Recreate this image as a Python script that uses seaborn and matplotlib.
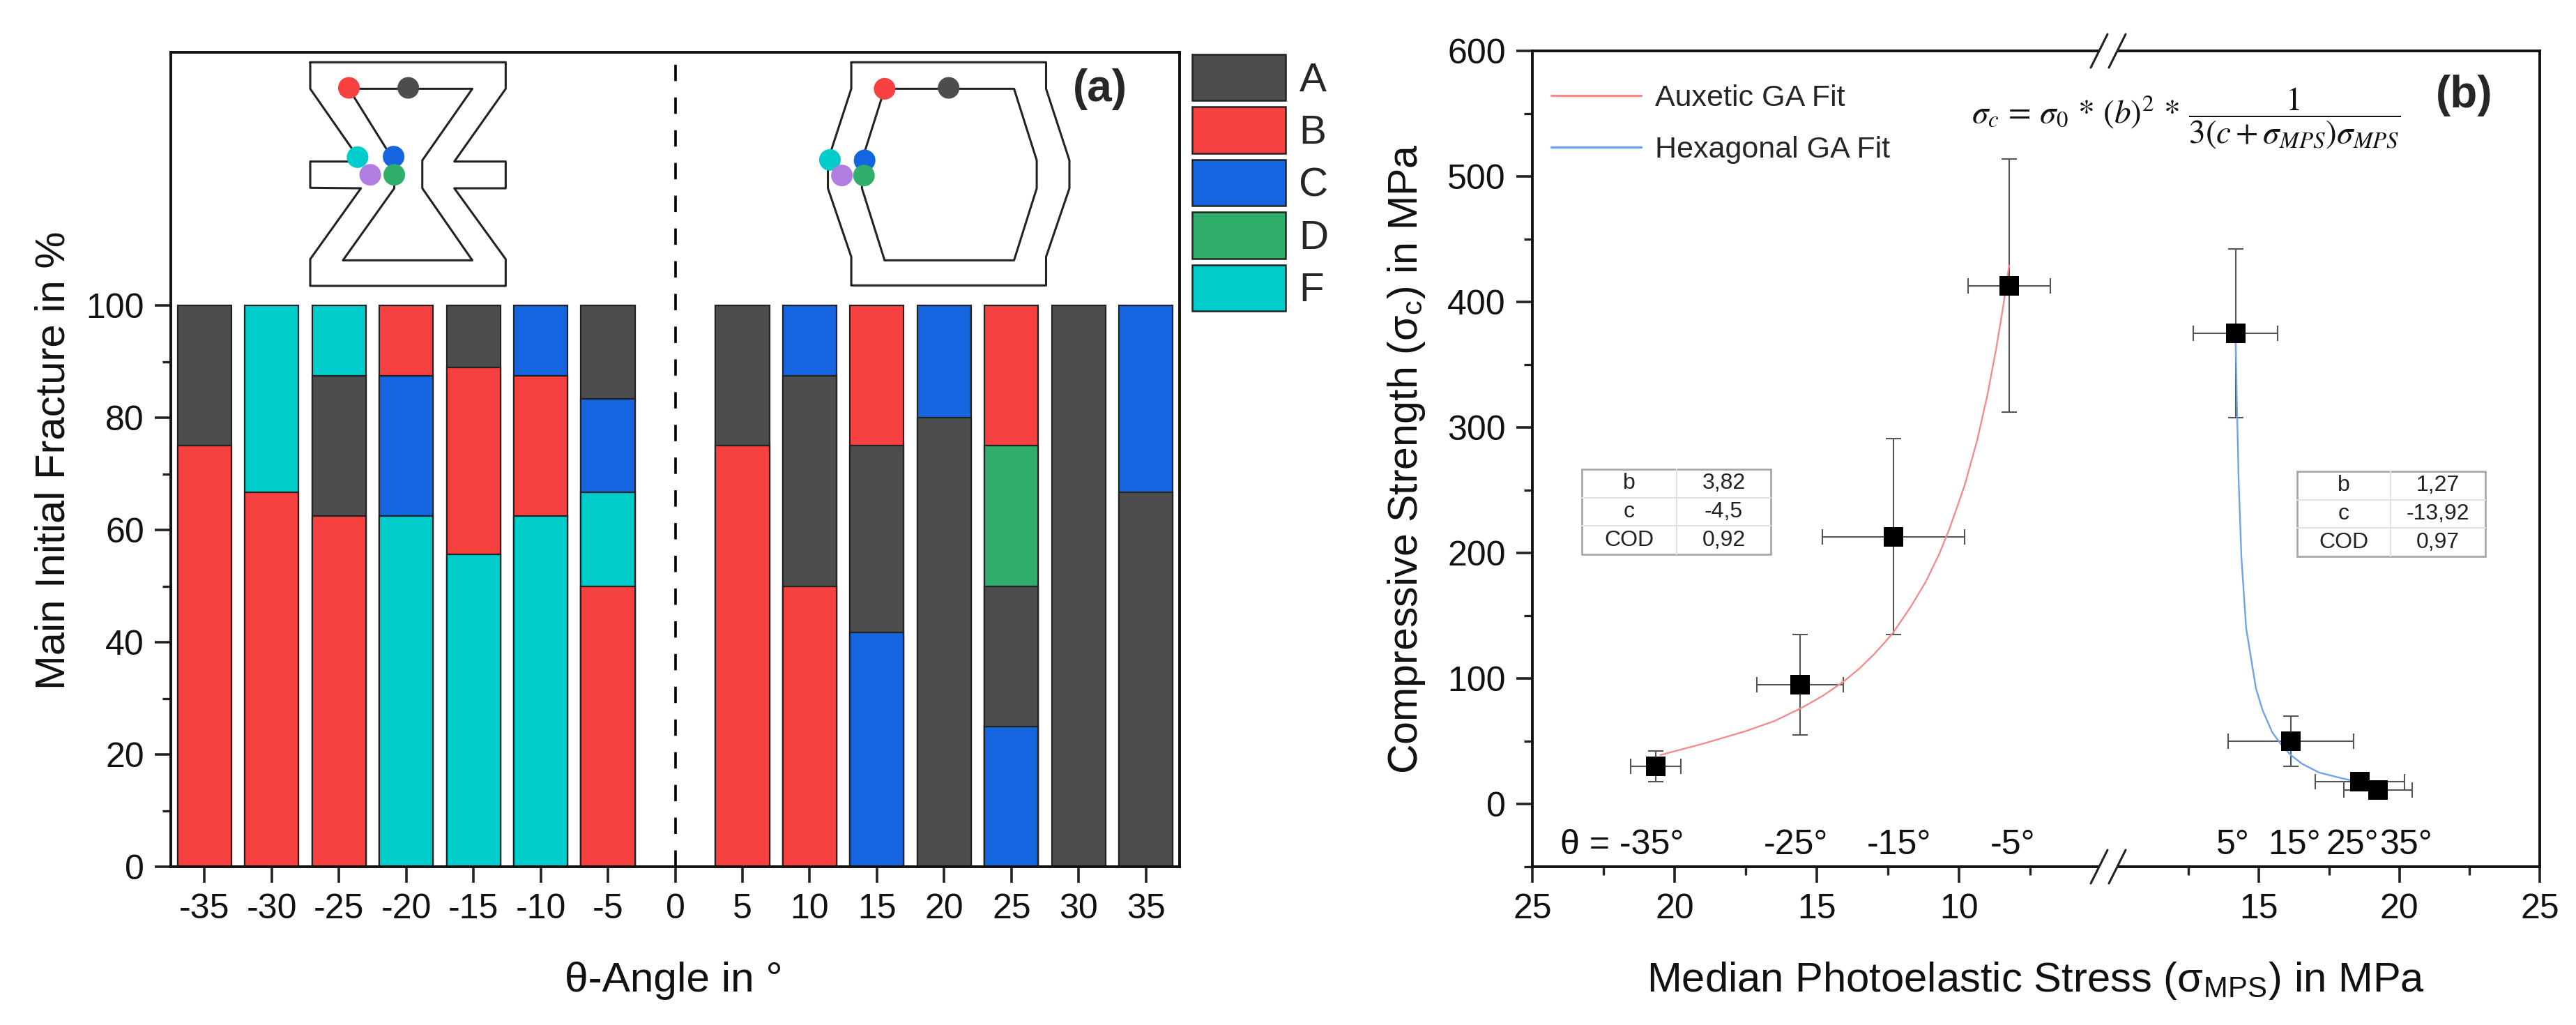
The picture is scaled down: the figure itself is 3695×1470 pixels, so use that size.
import matplotlib
matplotlib.use("Agg")
import matplotlib.pyplot as plt
from matplotlib.lines import Line2D
from matplotlib.patches import Patch, Circle, Rectangle
import pandas as pd
import seaborn as sns

W, H = 3695, 1470
sns.set_theme(style="white")
plt.rcParams["font.family"] = ["Liberation Sans", "DejaVu Sans"]
plt.rcParams["mathtext.fontset"] = "stix"
plt.rcParams["axes.unicode_minus"] = False

# ---- panel (a) data
ANGLES = [-35, -30, -25, -20, -15, -10, -5, 5, 10, 15, 20, 25, 30, 35]
TICK_ANGLES = list(range(-35, 40, 5))
STACK_LABELS = ["BA", "BF", "BAF", "FCB", "FBA", "FBC", "BFCA",
                "BA", "BAC", "CAB", "AC", "CADB", "A", "AC"]
STACK_VALUES = [[75, 25], [66.7, 33.3], [62.5, 25, 12.5], [62.5, 25, 12.5],
                [55.6, 33.3, 11.1], [62.5, 25, 12.5], [50, 16.7, 16.7, 16.6],
                [75, 25], [50, 37.5, 12.5], [41.7, 33.3, 25], [80, 20],
                [25, 25, 25, 25], [100], [66.7, 33.3]]
FRACTURE_COLORS = {"A": "#4d4d4d", "B": "#f74040", "C": "#1565e0",
                   "D": "#2fae6c", "F": "#00cccc"}
LEGEND_LABELS = ["A", "B", "C", "D", "F"]
EXTRA_COLOR = "#b07ee0"

# ---- panel (b) data
AUX_X = [20.66, 15.58, 12.30, 8.24]
AUX_Y = [30, 95, 213, 413]
AUX_XERR = [0.88, 1.52, 2.50, 1.44]
AUX_YERR = [12, 40, 78, 101]
HEX_X = [14.17, 16.14, 18.60, 19.24]
HEX_Y = [375, 50, 18, 11]
HEX_XERR = [1.50, 2.23, 1.58, 1.21]
HEX_YERR = [67, 20, 4, 4]
AUX_FIT_X = [20.5, 19.0, 17.5, 16.5, 15.58, 14.8, 14.03, 13.5, 13.0, 12.6, 12.3, 11.7, 11.17, 10.7, 10.34,
             9.8, 9.36, 9.0, 8.7, 8.45, 8.24]
AUX_FIT_Y = [39, 48, 58, 66, 76, 86, 98, 108, 119, 129, 137, 157, 177, 199, 219, 254, 290, 326, 362, 396, 429]
HEX_FIT_X = [14.17, 14.22, 14.28, 14.38, 14.55, 14.90, 15.13, 15.48, 15.84, 16.14, 16.54, 17.15, 17.86, 18.62, 19.27]
HEX_FIT_Y = [375, 320, 260, 197, 140, 92, 75, 57, 46, 39, 32, 25, 21, 17, 13]
THETA_LEFT = [("θ = -35°", 21.84), ("-25°", 15.74), ("-15°", 12.1), ("-5°", 8.1)]
THETA_RIGHT = [("5°", 14.08), ("15°", 16.27), ("25°", 18.33), ("35°", 20.24)]
TABLE_LEFT = [["b", "3,82"], ["c", "-4,5"], ["COD", "0,92"]]
TABLE_RIGHT = [["b", "1,27"], ["c", "-13,92"], ["COD", "0,97"]]

TICK = 36
LABEL = 43
fig = plt.figure(figsize=(W / 100, H / 100), dpi=100, facecolor="white")


def px_axes(l, t, r, b):
    return fig.add_axes([l / W, 1 - b / H, (r - l) / W, (b - t) / H])


def style(ax):
    for s in ax.spines.values():
        s.set_color("#111111")
        s.set_linewidth(2.8)
    ax.tick_params(which="major", length=16.5, width=2.6, labelsize=TICK, pad=11,
                   color="#222222", labelcolor="#111111", left=True, bottom=True)
    ax.tick_params(which="minor", length=8.5, width=2.4, color="#222222",
                   left=True, bottom=True)


# ===== panel (a)
axa = px_axes(245, 75, 1692, 1243)
style(axa)
rows = []
for ang, labs, vals in zip(ANGLES, STACK_LABELS, STACK_VALUES):
    top = 0
    for lev, (lab, v) in enumerate(zip(labs, vals)):
        top += v
        rows.append(dict(angle=ang, fracture=lab, level=lev, top=top))
df = pd.DataFrame(rows)
for lev in sorted(df.level.unique(), reverse=True):
    sns.barplot(data=df[df.level == lev], x="angle", y="top", hue="fracture", order=TICK_ANGLES,
                palette=FRACTURE_COLORS, dodge=False, width=0.8, saturation=1,
                edgecolor="#222222", linewidth=1.6, legend=False, ax=axa)
axa.set_xlim(-0.5, len(TICK_ANGLES) - 0.5)
axa.set_ylim(0, 145.1)
axa.set_yticks(range(0, 101, 20))
axa.yaxis.set_minor_locator(plt.FixedLocator(range(10, 100, 20)))
axa.set_xlabel("")
axa.set_ylabel("")
fig.text(966 / W, 1 - 1422 / H, "θ-Angle in °", fontsize=LABEL + 0.5, ha="center", va="baseline", color="#111111")
fig.text(77 / W, 1 - 660 / H, "Main Initial Fracture in %", fontsize=LABEL, rotation=90,
         ha="center", va="center", color="#111111")
axa.axvline(TICK_ANGLES.index(0), ymin=0, ymax=(1243 - 90) / (1243 - 75), color="black", lw=2.6, dashes=(6.5, 6.5))
fig.text(1578 / W, 1 - 128 / H, "(a)", fontsize=46, fontweight="bold", ha="center", va="center")

# legend boxes
handles = [Patch(facecolor=FRACTURE_COLORS[k], edgecolor="#222222", linewidth=1.8) for k in LEGEND_LABELS]
fig.legend(handles, LEGEND_LABELS, loc="upper left", bbox_to_anchor=(1710 / W, 1 - 78 / H),
           bbox_transform=fig.transFigure, frameon=False, fontsize=42, handlelength=2.3,
           handleheight=1.374, labelspacing=0.155, handletextpad=0.33, borderpad=0, borderaxespad=0)


# ===== specimen sketches
def zx(x):
    return (200 + x / 1.045) / W


def zy(y):
    return 1 - (40 + y / 3) / H


def poly(pts):
    xs = [zx(p[0]) for p in pts]
    ys = [zy(p[1]) for p in pts]
    fig.add_artist(Line2D(xs, ys, color="#222222", lw=2.2, transform=fig.transFigure, zorder=5))


def dots(items):
    ax_ov = fig.add_axes([0, 0, 1, 1], facecolor="none", zorder=6)
    ax_ov.set_xlim(0, W); ax_ov.set_ylim(H, 0); ax_ov.axis("off")
    for (x, y, c) in items:
        ax_ov.add_patch(Circle((200 + x / 1.045, 40 + y / 3), 15.5, facecolor=c, edgecolor="none"))


poly([(256, 148), (549, 148), (549, 262), (472, 575), (549, 575), (549, 690), (472, 690), (549, 995),
      (549, 1110), (256, 1110), (256, 995), (332, 690), (256, 688), (256, 575), (332, 575), (256, 262), (256, 148)])
poly([(314, 262), (499, 262), (424, 570), (424, 690), (499, 1000), (305, 1000), (382, 690), (382, 575), (314, 262)])
poly([(1067, 148), (1359, 148), (1359, 262), (1394, 570), (1394, 690), (1359, 985), (1359, 1108), (1067, 1108),
      (1067, 985), (1032, 690), (1032, 570), (1067, 262), (1067, 148)])
poly([(1117, 262), (1311, 262), (1345, 570), (1345, 690), (1311, 1000), (1117, 1000), (1083, 690), (1083, 570), (1117, 262)])
A, B, C, D, F = [FRACTURE_COLORS[k] for k in LEGEND_LABELS]
dots([(314, 258, B), (403, 258, A), (327, 556, F), (381, 554, C), (346, 632, EXTRA_COLOR), (382, 632, D),
      (1117, 262, B), (1213, 258, A), (1035, 568, F), (1087, 570, C), (1053, 635, EXTRA_COLOR), (1086, 635, D)])

# ===== panel (b)
axl = px_axes(2198, 73, 3024, 1243)
axr = px_axes(3024, 73, 3643, 1243)
for ax in (axl, axr):
    style(ax)
    ax.set_ylim(-50, 600)
axl.set_xlim(25, 25 - (3024 - 2198) / 40.8)
axr.set_xlim(15 - (3240 - 3024) / 40.3, 25)
axl.spines["right"].set_visible(False)
axr.spines["left"].set_visible(False)
axr.tick_params(which="both", left=False, labelleft=False)
axl.set_yticks(range(0, 601, 100))
axl.yaxis.set_minor_locator(plt.FixedLocator(range(-50, 600, 100)))
axl.set_xticks([25, 20, 15, 10])
axl.xaxis.set_minor_locator(plt.FixedLocator([22.5, 17.5, 12.5, 7.5]))
axr.set_xticks([15, 20, 25])
axr.xaxis.set_minor_locator(plt.FixedLocator([12.5, 17.5, 22.5]))
fig.text(2017 / W, 1 - 658 / H, "Compressive Strength (σ$_{\\mathregular{c}}$) in MPa", fontsize=LABEL - 0.4, rotation=90,
         ha="center", va="center", color="#111111")
fig.text(2920 / W, 1 - 1422 / H, "Median Photoelastic Stress (σ$_{\\mathregular{MPS}}$) in MPa",
         fontsize=LABEL, ha="center", va="baseline", color="#111111")

fits = [(axl, AUX_FIT_X, AUX_FIT_Y, "#f58c8c", "Auxetic GA Fit"),
        (axr, HEX_FIT_X, HEX_FIT_Y, "#6ea2ea", "Hexagonal GA Fit")]
for ax, fx, fy, c, name in fits:
    sns.lineplot(x=fx, y=fy, color=c, lw=1.7, sort=False, estimator=None, ax=ax, zorder=3)
for ax, x, y, xe, ye in [(axl, AUX_X, AUX_Y, AUX_XERR, AUX_YERR), (axr, HEX_X, HEX_Y, HEX_XERR, HEX_YERR)]:
    ax.errorbar(x, y, xerr=xe, yerr=ye, fmt="none", ecolor="#555555", elinewidth=1.5, capsize=8, capthick=1.5, zorder=2)
    sns.scatterplot(x=x, y=y, marker="s", s=420, color="black", edgecolor="black", linewidth=0, ax=ax, zorder=4)

for txt, xv in THETA_LEFT:
    axl.text(xv, -33, txt, fontsize=TICK, ha="center", va="center", color="#111111")
for txt, xv in THETA_RIGHT:
    axr.text(xv, -33, txt, fontsize=TICK, ha="center", va="center", color="#111111")

fig.legend([Line2D([], [], color=f[3], lw=2.4) for f in fits], [f[4] for f in fits], loc="upper left",
           bbox_to_anchor=(2225 / W, 1 - 121 / H), bbox_transform=fig.transFigure, frameon=False, fontsize=31,
           handlelength=3.0, handletextpad=0.45, labelspacing=0.79, borderpad=0, borderaxespad=0)

fig.text(3535 / W, 1 - 137 / H, "(b)", fontsize=46, fontweight="bold", ha="center", va="center")
fig.text(3136 / W, 1 - 170 / H,
         r"$\sigma_c\,=\,\sigma_0\,*\,(b)^2\,*\,\dfrac{1}{3(c+\sigma_{MPS})\sigma_{MPS}}$",
         fontsize=34, ha="center", va="center", color="#111111")


def stat_table(rows_, l, t, r, b, split):
    ov = fig.add_axes([0, 0, 1, 1], facecolor="none", zorder=7)
    ov.set_xlim(0, W); ov.set_ylim(H, 0); ov.axis("off")
    ov.add_patch(Rectangle((l, t), r - l, b - t, facecolor="white", edgecolor="#a8a8a8", lw=2))
    h = (b - t) / 3
    for i, (k, v) in enumerate(rows_):
        if i:
            ov.plot([l, r], [t + i * h] * 2, color="#e2e2e2", lw=1.5)
        ov.text((l + split) / 2, t + (i + .5) * h, k, fontsize=23, ha="center", va="center", color="#222222")
        ov.text((split + r) / 2, t + (i + .5) * h, v, fontsize=23, ha="center", va="center", color="#222222")
    ov.plot([split, split], [t, b], color="#e2e2e2", lw=1.5)


stat_table(TABLE_LEFT, 2269, 673, 2540, 795, 2405)
stat_table(TABLE_RIGHT, 3295, 676, 3565, 798, 3429)

# axis break marks
ov = fig.add_axes([0, 0, 1, 1], facecolor="none", zorder=8)
ov.set_xlim(0, W); ov.set_ylim(H, 0); ov.axis("off")
for yc in (73, 1243):
    ov.add_patch(Rectangle((3011, yc - 5), 26, 10, facecolor="white", edgecolor="none"))
    for dx in (-13, 13):
        ov.plot([3024 + dx - 12, 3024 + dx + 12], [yc + 24, yc - 24], color="#222222", lw=2.2)

fig.savefig("out.png", dpi=100)
